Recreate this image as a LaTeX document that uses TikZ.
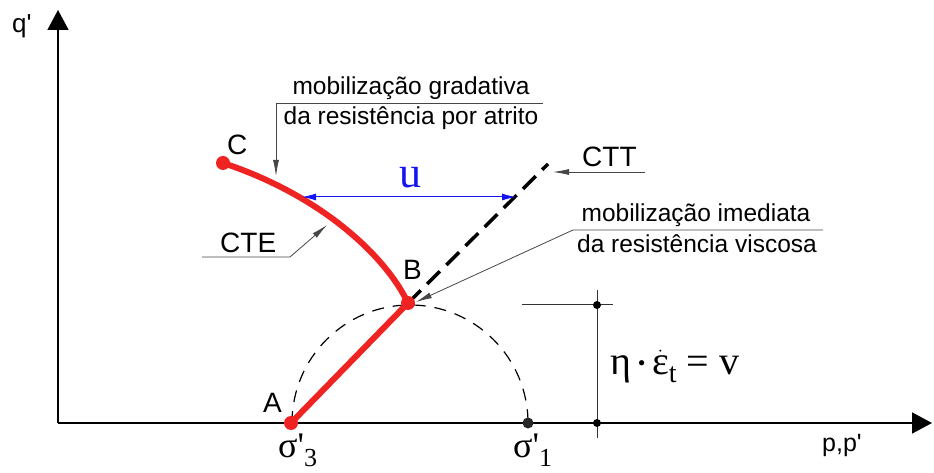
\documentclass[tikz,border=0pt]{standalone}
\usepackage{fontspec}
\setmainfont{Liberation Serif}
\newfontfamily\lsans[Ligatures=TeXOff]{Liberation Sans}
\newfontfamily\lserif[Ligatures=TeXOff]{Liberation Serif}
\usetikzlibrary{arrows.meta}
\definecolor{redc}{RGB}{240,35,35}
\definecolor{bluec}{RGB}{20,20,240}
\definecolor{leadc}{RGB}{70,70,70}
\tikzset{
  axisline/.style={line width=1.6pt, -{Triangle[length=20pt,width=21pt]}},
  leader/.style={line width=0.8pt, draw=leadc, -{Latex[length=16pt,width=6pt]}},
  redline/.style={draw=redc, line width=6pt, line cap=round, line join=round},
  reddot/.style={circle, fill=redc, minimum size=14pt, inner sep=0pt},
  blackdot/.style={circle, fill=black, minimum size=8pt, inner sep=0pt},
  bigdot/.style={circle, fill=black!85, minimum size=11pt, inner sep=0pt},
  cttline/.style={line width=3.5pt, dash pattern=on 18pt off 9pt},
  circline/.style={line width=1.2pt, dash pattern=on 12pt off 9pt},
  uarrow/.style={draw=bluec, line width=1pt, {Latex[length=14pt,width=7pt]}-{Latex[length=14pt,width=7pt]}},
  lbl/.style={inner sep=0pt, anchor=base west, font=\lsans\fontsize{28}{32}\selectfont},
  ann/.style={inner sep=0pt, anchor=base, font=\lsans\fontsize{24.5}{28}\selectfont},
  sig/.style={inner sep=0pt, anchor=base west, font=\lserif\fontsize{36}{40}\selectfont},
}
\begin{document}
\begin{tikzpicture}[x=1pt,y=1pt]
\useasboundingbox (0,0) rectangle (934,473);
% axes
\coordinate (O) at (58,50);
\coordinate (ytip) at (58,463);
\coordinate (xtip) at (932,50);
\draw[axisline] (O) -- (ytip);
\draw[axisline] (O) -- (xtip);
\node[inner sep=0pt, anchor=base west, font=\lsans\fontsize{26}{28}\selectfont] (ql) at (12,440) {q'};
\node[inner sep=0pt, anchor=base west, font=\lsans\fontsize{25}{28}\selectfont] (pl) at (822,21) {p,p'};
% Mohr semicircle
\coordinate (cl) at (292,50);
\draw[circline] (cl) arc[start angle=180, end angle=0, radius=118];
% dimension lines
\coordinate (dvb) at (597,35);
\coordinate (dvt) at (597,183);
\coordinate (dhl) at (522,168);
\coordinate (dhr) at (613,168);
\draw[line width=1pt, draw=black!80] (dvb) -- (dvt);
\draw[line width=1pt, draw=black!80] (dhl) -- (dhr);
\node[blackdot] (d1) at (597,168) {};
\node[blackdot] (d2) at (597,50) {};
\node[bigdot] (s1dot) at (528,50) {};
% CTT dashed line
\coordinate (cttend) at (548,309);
\coordinate (Bc) at (408,170);
\draw[cttline] (Bc) -- (cttend);
% red paths
\node[reddot] (A) at (291,50) {};
\node[reddot] (B) at (408,170) {};
\node[reddot] (C) at (223,310) {};
\draw[redline] (A.center) -- (B.center);
\draw[redline] (B.center) .. controls (385,218) and (320,278) .. (C.center);
% u arrow
\coordinate (ul) at (302,276);
\coordinate (ur) at (516,276);
\draw[uarrow] (ul) -- (ur);
\node[inner sep=0pt, anchor=base, text=bluec, font=\lserif\fontsize{44}{48}\selectfont] (u) at (410,285) {u};
% point labels
\node[lbl] (Al) at (263,60) {A};
\node[lbl] (Bl) at (403,193) {B};
\node[lbl] (Cl) at (227,318) {C};
% CTT label
\node[lbl] (cttl) at (582,306) {CTT};
\coordinate (cttr) at (645,301);
\coordinate (ctttip) at (553,301);
\draw[leader] (cttr) -- (ctttip);
% CTE label
\node[lbl] (ctel) at (220,220) {CTE};
\coordinate (ctea) at (202,216);
\coordinate (cteb) at (290,216);
\coordinate (ctetip) at (327,248);
\draw[leader] (ctea) -- (cteb) -- (ctetip);
% gradativa annotation
\node[ann] (g1) at (411,378) {mobilização gradativa};
\node[ann] (g2) at (411,348) {da resistência por atrito};
\coordinate (gr) at (543,370);
\coordinate (gl) at (276,370);
\coordinate (gtip) at (276,297);
\draw[leader] (gr) -- (gl) -- (gtip);
% imediata annotation
\node[ann] (i1) at (696,251) {mobilização imediata};
\node[ann] (i2) at (697,220) {da resistência viscosa};
\coordinate (ir) at (823,243);
\coordinate (il) at (573,243);
\coordinate (itip) at (416,171);
\draw[leader] (ir) -- (il) -- (itip);
% sigma labels
\node[sig] (s3) at (278,15) {σ'\raisebox{-9pt}{\fontsize{26}{28}\selectfont 3}};
\node[sig] (s1) at (513,15) {σ'\raisebox{-9pt}{\fontsize{26}{28}\selectfont 1}};
% formula
\node[inner sep=0pt, anchor=base west, font=\lserif\fontsize{40}{44}\selectfont] (eq) at (610,98)
  {η\,\raisebox{4pt}{\fontsize{22}{24}\selectfont •}\,$\dot{\hbox{\lserif\fontsize{40}{44}\selectfont ε}}$\raisebox{-8pt}{\fontsize{28}{30}\selectfont t} = v};
\end{tikzpicture}
\end{document}
